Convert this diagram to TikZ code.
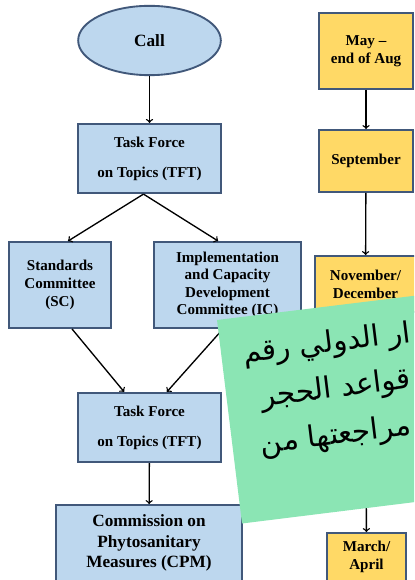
\documentclass[tikz,border=0pt]{standalone}
\usepackage{fontspec}
\setmainfont{Liberation Serif}
\newfontfamily\arabicfont[Script=Arabic]{DejaVu Sans}
\TeXXeTstate=1
\usetikzlibrary{shapes}
\definecolor{boxblue}{RGB}{189,215,238}
\definecolor{boxline}{RGB}{65,88,122}
\definecolor{boxyellow}{RGB}{255,217,102}
\definecolor{notegreen}{RGB}{139,229,180}

\begin{document}
\begin{tikzpicture}[x=0.75pt,y=-0.75pt]
\tikzstyle{box}=[
	rectangle,
	draw=boxline, line width=1.4pt,
	fill=boxblue,
	align=center, inner sep=0pt,
	font=\fontsize{11.3}{13.5}\selectfont\bfseries ]
\tikzstyle{month}=[box, fill=boxyellow]
\tikzstyle{link}=[->, line width=1pt]
\tikzstyle{note}=[rotate=7, anchor=base east, inner sep=0pt,
	font=\fontsize{22}{26}\selectfont\arabicfont]
\useasboundingbox (0,0) rectangle (414,580);
\clip (0,0) rectangle (414,580);
% left column
\node[box, ellipse, minimum width=107pt, minimum height=52pt, font=\fontsize{12.9}{15}\selectfont\bfseries] (call) at (149.5,40.5) {Call};
\node[box, minimum width=107pt, minimum height=52pt] (tft1) at (149.5,158.5) {Task Force\\[9pt]on Topics (TFT)};
\node[box, minimum width=76.5pt, minimum height=64.5pt] (sc) at (60,285) {Standards\\Committee\\(SC)};
\node[box, minimum width=110pt, minimum height=64.5pt, font=\fontsize{11.3}{13}\selectfont\bfseries] (ic) at (227.5,285) {Implementation\\and Capacity\\Development\\Committee (IC)};
\node[box, minimum width=107pt, minimum height=52pt] (tft2) at (149.5,427.5) {Task Force\\[9pt]on Topics (TFT)};
\node[box, minimum width=139.5pt, minimum height=57pt, font=\fontsize{12.9}{15.4}\selectfont\bfseries] (cpm) at (149,543) {Commission on\\Phytosanitary\\Measures (CPM)};
% right column
\node[month, minimum width=70.5pt, minimum height=57pt] (may) at (366,51) {May --\\end of Aug};
\node[month, minimum width=70.5pt, minimum height=46.5pt] (sep) at (366,161) {September};
\node[month, minimum width=76pt, minimum height=42pt] (nov) at (365.5,284) {November/\\December};
\node[month, minimum width=59pt, minimum height=36pt] (mar) at (366.5,557) {March/\\April};
% arrows
\draw[link] (call) -- (tft1);
\draw[link] ([xshift=-4.5pt]tft1.south) -- ([xshift=6pt]sc.north);
\draw[link] ([xshift=-4.5pt]tft1.south) -- ([xshift=-7pt]ic.north);
\draw[link] ([xshift=9pt]sc.south) -- ([xshift=-19pt]tft2.north);
\draw[link] ([xshift=-3.4pt]ic.south) -- ([xshift=13pt]tft2.north);
\draw[link] (tft2) -- (cpm);
\draw[link] (may) -- (sep);
\draw[link] (sep) -- (nov);
\draw[link] (nov) -- (mar);
% green note on top
\fill[notegreen] (217,320) -- (600,273) -- (625,476) -- (242,523.5) -- cycle;
\node[note] (line1) at (412,342) {\beginR ار الدولي رقم\endR};
\node[note] (line2) at (412,388) {\beginR قواعد الحجر\endR};
\node[note] (line3) at (412,435) {\beginR مراجعتها من\endR};
\end{tikzpicture}
\end{document}
